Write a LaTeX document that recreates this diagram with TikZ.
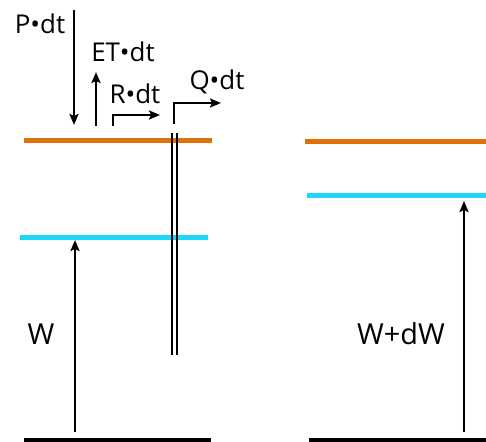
\documentclass[tikz,border=0pt]{standalone}
\usepackage{fontspec}
\setmainfont{Open Sans}
\usetikzlibrary{arrows.meta}
\definecolor{lvorange}{RGB}{224,112,10}
\definecolor{lvcyan}{RGB}{28,216,246}
\begin{document}
\begin{tikzpicture}[x=1bp,y=-1bp,
  level/.style={line width=5bp},
  flow/.style={line width=2.4bp,-{Stealth[length=11bp,width=9bp,inset=2bp]}},
  wire/.style={line width=1.5bp},
  lab/.style={inner sep=0pt,font=\fontsize{26}{28}\selectfont},
  wlab/.style={inner sep=0pt,font=\fontsize{29}{31}\selectfont}]
\useasboundingbox (0,0) rectangle (486,442);
% levels, left
\coordinate (oL1) at (24,141); \coordinate (oL2) at (212,141);
\coordinate (cL1) at (20,237); \coordinate (cL2) at (208,237);
\coordinate (bL1) at (24,440); \coordinate (bL2) at (211,440);
% levels, right
\coordinate (oR1) at (305,142); \coordinate (oR2) at (490,142);
\coordinate (cR1) at (307,196); \coordinate (cR2) at (490,196);
\coordinate (bR1) at (309,440); \coordinate (bR2) at (490,440);
\draw[level,lvorange] (oL1) -- (oL2);
\draw[level,lvcyan] (cL1) -- (cL2);
\draw[level,black] (bL1) -- (bL2);
\draw[level,lvorange] (oR1) -- (oR2);
\draw[level,lvcyan] (cR1) -- (cR2);
\draw[level,black] (bR1) -- (bR2);
% W arrows
\coordinate (wL0) at (75,432); \coordinate (wL1) at (75,240);
\coordinate (wR0) at (464,432); \coordinate (wR1) at (464,201);
\draw[flow] (wL0) -- (wL1);
\draw[flow] (wR0) -- (wR1);
% double vertical wire
\coordinate (d1a) at (172,133); \coordinate (d1b) at (172,355);
\coordinate (d2a) at (177,133); \coordinate (d2b) at (177,355);
\draw[wire] (d1a) -- (d1b);
\draw[wire] (d2a) -- (d2b);
% flux arrows
\coordinate (p0) at (74,10); \coordinate (p1) at (74,125);
\draw[flow] (p0) -- (p1);
\coordinate (e0) at (96,126); \coordinate (e1) at (96,72);
\draw[flow] (e0) -- (e1);
\coordinate (r0) at (113,126); \coordinate (r1) at (113,115); \coordinate (r2) at (160,115);
\draw[flow] (r0) -- (r1) -- (r2);
\coordinate (q0) at (174,124); \coordinate (q1) at (174,103); \coordinate (q2) at (221,103);
\draw[flow] (q0) -- (q1) -- (q2);
% labels
\node[lab] (P) at (40,24) {P•dt};
\node[lab] (E) at (123,52) {ET•dt};
\node[lab] (R) at (135,94) {R•dt};
\node[lab] (Q) at (217,82) {Q•dt};
\node[wlab] (W) at (41,334) {W};
\node[wlab] (WdW) at (401,334) {W+dW};
\end{tikzpicture}
\end{document}
